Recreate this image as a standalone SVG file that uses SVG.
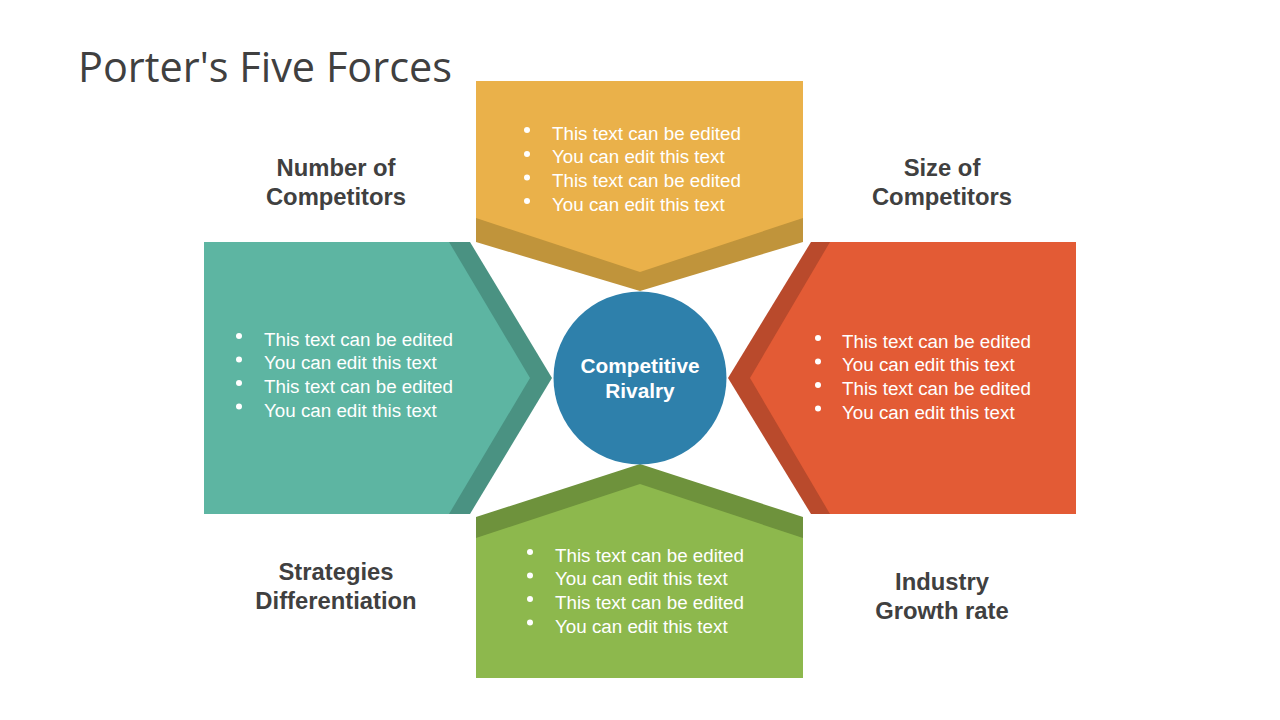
<svg xmlns="http://www.w3.org/2000/svg" width="1280" height="720" viewBox="0 0 1280 720">
<style>
.b{font-family:"Liberation Sans",Arial,sans-serif;font-size:18.8px;fill:#ffffff}
.lbl{font-family:"Liberation Sans",Arial,sans-serif;font-size:23.8px;font-weight:bold;fill:#404040;text-anchor:middle}
.ctr{font-family:"Liberation Sans",Arial,sans-serif;font-size:20.8px;font-weight:bold;fill:#ffffff;text-anchor:middle}
.dot{fill:#ffffff}
</style>
<rect width="1280" height="720" fill="#ffffff"/>
<text x="78" y="82" font-family="'Open Sans','Liberation Sans',sans-serif" font-size="42" fill="#404040" textLength="374" lengthAdjust="spacingAndGlyphs">Porter's Five Forces</text>

<g id="top">
<polygon points="476,81 803,81 803,242 640,291 476,242" fill="#C0943B"/>
<polygon points="476,81 803,81 803,218 640,272 476,218" fill="#EAB14A"/>
<g class="dot"><circle cx="527" cy="130" r="3"/><circle cx="527" cy="154" r="3"/><circle cx="527" cy="177.5" r="3"/><circle cx="527" cy="201" r="3"/></g>
<text class="b" x="552" y="139.5">This text can be edited</text>
<text class="b" x="552" y="163">You can edit this text</text>
<text class="b" x="552" y="186.8">This text can be edited</text>
<text class="b" x="552" y="210.5">You can edit this text</text>
</g>

<g id="left">
<polygon points="204,242 470,242 552,378 470,514 204,514" fill="#4A9282"/>
<polygon points="204,242 449,242 530,378 449,514 204,514" fill="#5DB5A2"/>
<g class="dot"><circle cx="239" cy="336" r="3"/><circle cx="239" cy="359.5" r="3"/><circle cx="239" cy="383" r="3"/><circle cx="239" cy="406.5" r="3"/></g>
<text class="b" x="264" y="345.5">This text can be edited</text>
<text class="b" x="264" y="369">You can edit this text</text>
<text class="b" x="264" y="392.8">This text can be edited</text>
<text class="b" x="264" y="416.5">You can edit this text</text>
</g>

<g id="right">
<polygon points="1076,242 811,242 728,378 811,514 1076,514" fill="#B94A2C"/>
<polygon points="1076,242 830,242 750,378 830,514 1076,514" fill="#E35B35"/>
<g class="dot"><circle cx="818" cy="338" r="3"/><circle cx="818" cy="361.5" r="3"/><circle cx="818" cy="385" r="3"/><circle cx="818" cy="408.5" r="3"/></g>
<text class="b" x="842" y="347.5">This text can be edited</text>
<text class="b" x="842" y="371">You can edit this text</text>
<text class="b" x="842" y="394.8">This text can be edited</text>
<text class="b" x="842" y="418.5">You can edit this text</text>
</g>

<g id="bottom">
<polygon points="476,517 640,464 803,517 803,678 476,678" fill="#6E923C"/>
<polygon points="476,538 640,484 803,538 803,678 476,678" fill="#8DB84D"/>
<g class="dot"><circle cx="530" cy="552" r="3"/><circle cx="530" cy="575.5" r="3"/><circle cx="530" cy="599" r="3"/><circle cx="530" cy="622.5" r="3"/></g>
<text class="b" x="555" y="561.5">This text can be edited</text>
<text class="b" x="555" y="585">You can edit this text</text>
<text class="b" x="555" y="608.8">This text can be edited</text>
<text class="b" x="555" y="632.5">You can edit this text</text>
</g>

<g id="center">
<circle cx="640" cy="378" r="86.5" fill="#2E80AB"/>
<text class="ctr" x="640" y="373">Competitive</text>
<text class="ctr" x="640" y="398">Rivalry</text>
</g>

<g id="label-number">
<text class="lbl" x="336" y="176">Number of</text>
<text class="lbl" x="336" y="205">Competitors</text>
</g>
<g id="label-size">
<text class="lbl" x="942" y="176">Size of</text>
<text class="lbl" x="942" y="205">Competitors</text>
</g>
<g id="label-strategies">
<text class="lbl" x="336" y="580">Strategies</text>
<text class="lbl" x="336" y="609">Differentiation</text>
</g>
<g id="label-industry">
<text class="lbl" x="942" y="590">Industry</text>
<text class="lbl" x="942" y="619">Growth rate</text>
</g>
<g id="connectors"/>
</svg>
